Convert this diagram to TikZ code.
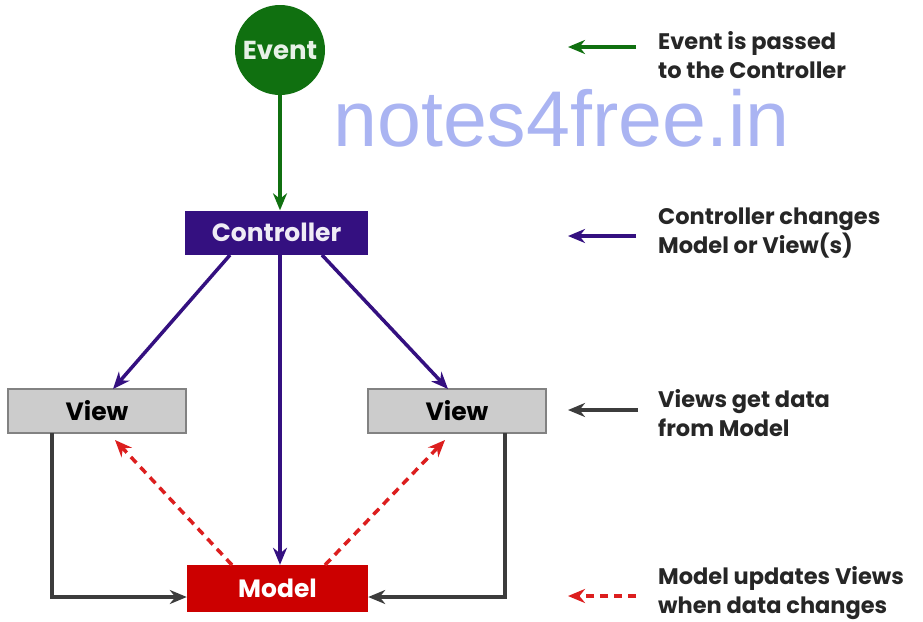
\documentclass[tikz,border=0pt]{standalone}
\usepackage{fontspec}
\setmainfont{Poppins}
\newfontfamily\wmfont{Liberation Sans}
\usetikzlibrary{arrows.meta}
\definecolor{evgreen}{RGB}{16,112,16}
\definecolor{ctlpurple}{RGB}{52,16,128}
\definecolor{viewgray}{RGB}{204,204,204}
\definecolor{viewedge}{RGB}{130,130,130}
\definecolor{modred}{RGB}{204,0,0}
\definecolor{linkgray}{RGB}{60,60,60}
\definecolor{dashred}{RGB}{220,30,30}
\definecolor{wmblue}{RGB}{170,180,242}
\tikzset{
  box/.style={rectangle, minimum height=44pt, inner sep=0pt, font=\bfseries\fontsize{25}{28}\selectfont},
  ctlbox/.style={box, fill=ctlpurple, text=white!92!ctlpurple, minimum width=183pt},
  viewbox/.style={box, fill=viewgray, draw=viewedge, line width=2pt, text=black, minimum width=178pt},
  modbox/.style={box, fill=modred, text=white, minimum width=181pt, minimum height=47pt},
  tip/.style={-{Stealth[length=17pt,width=14pt]}},
  garrow/.style={tip, draw=evgreen, line width=3.5pt},
  parrow/.style={tip, draw=ctlpurple, line width=3.5pt},
  karrow/.style={tip, draw=linkgray, line width=3.5pt},
  rarrow/.style={tip, draw=dashred, line width=3.5pt, dash pattern=on 8pt off 6pt},
  legend/.style={anchor=west, align=left, inner sep=0pt, text=black!85, font=\bfseries\fontsize{22.5}{29}\selectfont},
}
\begin{document}
\begin{tikzpicture}[x=1pt,y=-1pt]
\useasboundingbox (0,0) rectangle (923,621);
% watermark
\node[anchor=west, inner sep=0pt, text=wmblue, font=\wmfont\fontsize{79}{90}\selectfont] (wm) at (333,118) {notes4free.in};
% nodes
\node[circle, fill=evgreen, minimum size=90pt, inner sep=0pt, text=white!90!evgreen, font=\bfseries\fontsize{26}{28}\selectfont] (event) at (280,50) {Event};
\node[ctlbox] (ctl) at (276.5,232.5) {Controller};
\node[viewbox] (vl) at (97,411) {View};
\node[viewbox] (vr) at (457,411) {View};
\node[modbox] (mod) at (277.5,588.5) {Model};
% coordinates
\coordinate (c1) at (230,255);
\coordinate (c2) at (322,255);
\coordinate (vlt) at (113,389);
\coordinate (vrt) at (448,389);
\coordinate (vlb) at (115,440);
\coordinate (vrb) at (445,440);
\coordinate (m1) at (232,565);
\coordinate (m2) at (325,565);
\coordinate (vlc) at (52,433);
\coordinate (vrc) at (505,433);
% connectors
\draw[garrow] (event.south) -- (event.south |- ctl.north);
\draw[parrow] (c1) -- (vlt);
\draw[parrow] (c2) -- (vrt);
\draw[parrow] (ctl.south -| 280,0) -- (mod.north -| 280,0);
\draw[rarrow] (m1) -- (vlb);
\draw[rarrow] (m2) -- (vrb);
\draw[karrow] (vlc) |- (mod.west |- 0,597);
\draw[karrow] (vrc) |- (mod.east |- 0,597);
% legend
\coordinate (l1a) at (636,47);  \coordinate (l1b) at (568,47);
\coordinate (l2a) at (636,236); \coordinate (l2b) at (568,236);
\coordinate (l3a) at (638,410); \coordinate (l3b) at (568,410);
\coordinate (l4a) at (636,596); \coordinate (l4b) at (568,596);
\draw[garrow] (l1a) -- (l1b);
\draw[parrow] (l2a) -- (l2b);
\draw[karrow] (l3a) -- (l3b);
\draw[rarrow] (l4a) -- (l4b);
\node[legend] (t1) at (658,55) {Event is passed\\to the Controller};
\node[legend] (t2) at (658,233) {Controller changes\\Model or View(s)};
\node[legend] (t3) at (658,413) {Views get data\\from Model};
\node[legend] (t4) at (658,593) {Model updates Views\\when data changes};
\end{tikzpicture}
\end{document}
